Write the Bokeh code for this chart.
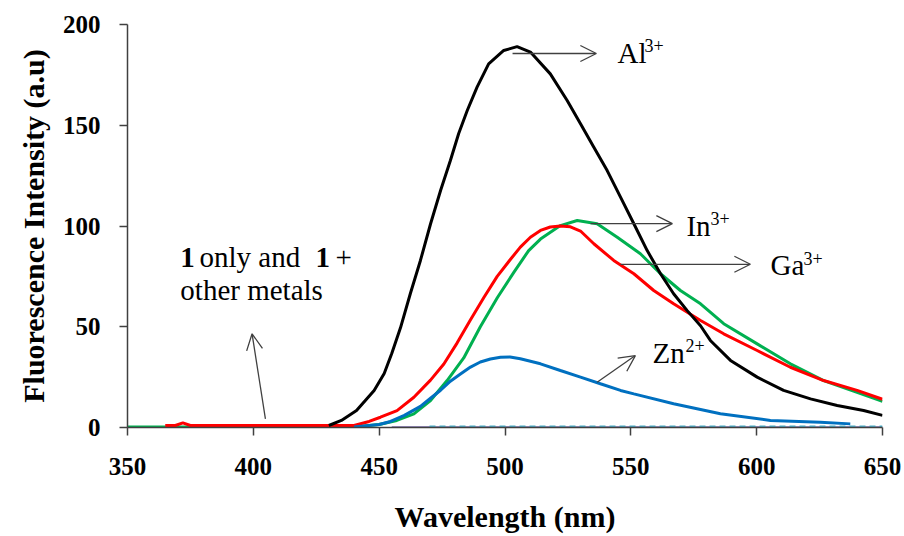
from bokeh.plotting import figure
from bokeh.models import Label, Arrow, OpenHead, FixedTicker
from bokeh.embed import file_html
from bokeh.resources import INLINE

# ---------------- data ----------------
al_wl = [430, 435, 441, 448, 452, 455, 458.5, 462.4, 466.4, 470.4, 474.4, 478.3, 481.6, 485,
         488.9, 493.5, 499.5, 504.8, 510.1, 518, 524.7, 530, 535.3, 540.6, 545.9, 551.2,
         556.5, 561.8, 567, 572.4, 577.7, 581.6, 589.6, 600.2, 610.7, 621.4, 632, 642.5, 650]
al_int = [1, 3.5, 8.4, 18.4, 26.8, 36.7, 49.6, 66.5, 82.9, 101, 117.6, 132.5, 145.9, 157.3,
          168.9, 180.5, 187.1, 189, 186.3, 175.5, 162.3, 150.7, 139.1, 127.5, 114.3, 101.1,
          87.8, 76.3, 66.4, 58, 50.5, 43.2, 33.3, 25, 18.4, 14.2, 10.9, 8.4, 6]

in_wl = [365, 369, 372, 375, 440, 446, 450.5, 457.1, 463.8, 470.4, 475.7, 481, 486.3, 491.6,
         496.9, 502.2, 506.1, 510.1, 514.1, 518, 522, 526, 530, 535.3, 543.2, 551.2, 559.1,
         567, 577.7, 586.9, 600.2, 613.4, 626.6, 639.9, 650]
in_int = [1, 1, 2.3, 1, 1, 3, 5.1, 8.4, 15, 23.5, 31.5, 42, 53.5, 64.5, 75, 83.5, 89.5, 94.4,
          97.8, 99.5, 100, 99.6, 97.5, 91.2, 82.9, 76.3, 68, 61.4, 53.1, 46.5, 38.2, 29.9,
          23.3, 18.4, 14]

ga_wl = [350, 440, 450, 457, 463.8, 470.4, 477, 483.6, 490.2, 497, 503.5, 509.4, 514.1, 522,
         528.7, 536.6, 544.6, 553.8, 561.8, 569.7, 577.7, 586.9, 600.2, 613.4, 626.6, 639.9, 650]
ga_int = [0.3, 0.3, 1.5, 3.5, 6.8, 13.4, 23.3, 34.5, 50, 64.5, 77, 87.8, 93.5, 100.2, 102.7,
          101.1, 94.4, 86.2, 76.3, 68, 61.4, 51.5, 41.5, 31.6, 23.3, 17.5, 13]

zn_wl = [440, 450, 454.5, 460, 466.4, 470.4, 474.4, 478.3, 482.3, 486.3, 490.2, 494.2, 498.2,
         502, 506.1, 514.1, 522, 530, 537.9, 545.9, 551.2, 567, 585.6, 605.5, 625.3, 637.2]
zn_int = [0.3, 1.5, 3, 6, 10.5, 14.5, 18.5, 23, 26.5, 30, 32.5, 34, 34.9, 35, 34.1, 31.6,
          28.3, 25, 21.7, 18.4, 16.7, 11.8, 6.8, 3.5, 2.6, 1.8]

other_wl = [455, 650]
other_int = [0, 0]
other2_wl = [470, 650]
other2_int = [0.6, 0.6]

x_ticks = [350, 400, 450, 500, 550, 600, 650]
y_ticks = [0, 50, 100, 150, 200]

SERIF = "Liberation Serif"
AX = "#404040"

p = figure(width=904, height=536, x_range=(350, 650), y_range=(0, 200),
           output_backend="svg", toolbar_location=None,
           min_border_left=127, min_border_right=22, min_border_top=24, min_border_bottom=109)
p.outline_line_color = None
p.grid.visible = False
p.background_fill_color = "white"

for ax in (p.xaxis, p.yaxis):
    ax.axis_line_color = AX
    ax.axis_line_width = 1.5
    ax.major_tick_line_color = AX
    ax.major_tick_line_width = 1.5
    ax.major_tick_in = 0
    ax.major_tick_out = 8
    ax.minor_tick_line_color = None
    ax.major_label_text_font = SERIF
    ax.major_label_text_font_style = "bold"
    ax.major_label_text_font_size = "25px"
    ax.major_label_text_color = "black"

p.xaxis.ticker = FixedTicker(ticks=x_ticks)
p.yaxis.ticker = FixedTicker(ticks=y_ticks)
p.xaxis.major_label_standoff = 22
p.yaxis.major_label_standoff = 19

p.yaxis.axis_label = "Fluorescence Intensity (a.u)"
p.xaxis.axis_label = "Wavelength (nm)"
for ax in (p.xaxis, p.yaxis):
    ax.axis_label_text_font = SERIF
    ax.axis_label_text_font_style = "bold"
    ax.axis_label_text_font_size = "30px"
    ax.axis_label_text_color = "black"
p.yaxis.axis_label_standoff = 10
p.xaxis.axis_label_standoff = 22

# curves
p.line(other_wl, other_int, line_color="#9d92c4", line_width=3)
p.line(other2_wl, other2_int, line_color="#4bacc6", line_width=1.5, line_dash="6 4")
p.line(ga_wl, ga_int, line_color="#00b050", line_width=3)
p.line(in_wl, in_int, line_color="#ff0000", line_width=3)
p.line(al_wl, al_int, line_color="black", line_width=3)
p.line(zn_wl, zn_int, line_color="#0070c0", line_width=3)

def arrow(x0, y0, x1, y1):
    p.add_layout(Arrow(end=OpenHead(size=16, line_color=AX, line_width=1.3),
                       x_start=x0, y_start=y0, x_end=x1, y_end=y1,
                       line_color=AX, line_width=1.3))

def ion(x, y, name, charge, sx):
    p.add_layout(Label(x=x, y=y, text=name, text_font=SERIF, text_font_size="29px",
                       text_baseline="middle", text_color="black"))
    p.add_layout(Label(x=x, y=y, x_offset=sx, y_offset=7, text=charge, text_font=SERIF,
                       text_font_size="18px", text_baseline="middle", text_color="black"))

arrow(503, 185.6, 536.3, 185.6)
ion(544.7, 186, "Al", "3+", 27)
arrow(534, 101.2, 566.5, 101.2)
ion(572.1, 100.2, "In", "3+", 24)
arrow(545.9, 81, 597.5, 81)
ion(605.5, 80.4, "Ga", "3+", 33)
arrow(536.6, 22.5, 551.8, 35.7)
ion(558.6, 37.2, "Zn", "2+", 33)

arrow(404.8, 4.3, 399.5, 46.5)
for x, t, st in [(371.0, "1", "bold"), (378.6, "only and", "normal"),
                 (424.7, "1", "bold"), (432.6, "+", "normal")]:
    p.add_layout(Label(x=x, y=84.4, text=t, text_font=SERIF, text_font_size="29px",
                       text_font_style=st, text_baseline="middle", text_color="black"))
p.add_layout(Label(x=371.0, y=68, text="other metals", text_font=SERIF, text_font_size="29px",
                   text_baseline="middle", text_color="black"))

open("out.html", "w").write(file_html(p, INLINE))
